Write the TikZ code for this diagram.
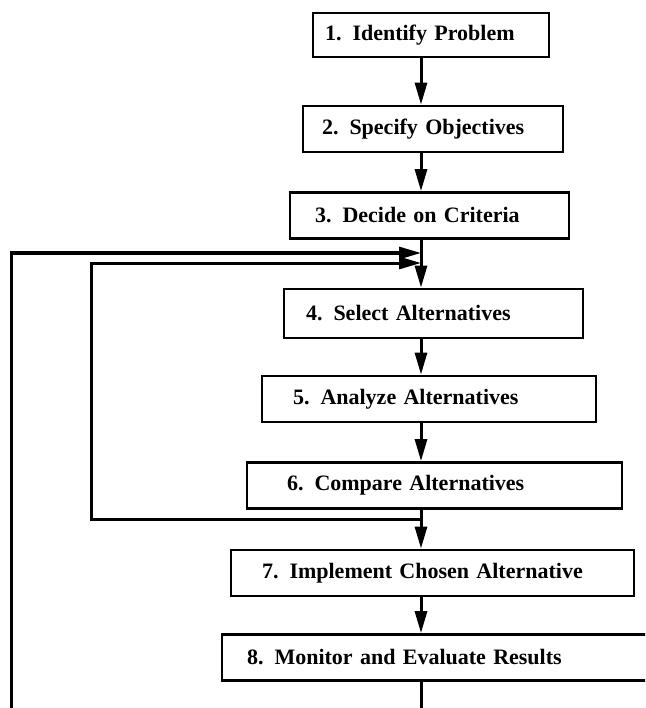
\documentclass[tikz,border=0pt]{standalone}
\usepackage{fontspec}
\setmainfont{Liberation Serif}
\usetikzlibrary{arrows.meta}
\tikzset{
    stage/.style={draw, line width=2.8pt, align=left, minimum height=46pt, inner ysep=0pt,
        font=\bfseries\fontsize{22}{26}\selectfont},
    flow/.style={line width=3pt, -{Triangle[length=22pt, width=12pt]}},
}

\begin{document}
\begin{tikzpicture}[x=1pt, y=-1pt]
    \clip (0,0) rectangle (645,708);
    \coordinate (spine) at (421,0);
    \coordinate (join1) at (421,253);
    \coordinate (join2) at (421,263);
    \coordinate (split) at (421,519);

    % Steps of the process
    \node[stage, minimum height=44pt, text width=212pt, inner xsep=12pt] (b1) at (431,35) {1.\enspace Identify Problem};
    \node[stage, text width=222pt, inner xsep=19pt] (b2) at (433,129) {2.\enspace Specify Objectives};
    \node[stage, text width=229pt, inner xsep=25pt] (b3) at (429.5,215.5) {3.\enspace Decide on Criteria};
    \node[stage, minimum height=49pt, text width=255pt, inner xsep=22pt] (b4) at (433.5,313.5) {4.\enspace Select Alternatives};
    \node[stage, text width=272pt, inner xsep=31pt] (b5) at (429,399) {5.\enspace Analyze Alternatives};
    \node[stage, text width=295pt, inner xsep=40pt] (b6) at (434.5,485.5) {6.\enspace Compare Alternatives};
    \node[stage, text width=341pt, inner xsep=31pt] (b7) at (432.5,573) {7.\enspace Implement Chosen Alternative};
    \node[stage, text width=388pt, inner xsep=25pt] (b8) at (441,657.5) {8.\enspace Monitor and Evaluate Results};

    % Forward arrows
    \draw[flow] (b1.south -| spine) -- (b2.north -| spine);
    \draw[flow] (b2.south -| spine) -- (b3.north -| spine);
    \draw[flow] (b3.south -| spine) -- (b4.north -| spine);
    \draw[flow] (b4.south -| spine) -- (b5.north -| spine);
    \draw[flow] (b5.south -| spine) -- (b6.north -| spine);
    \draw[flow] (b6.south -| spine) -- (b7.north -| spine);
    \draw[flow] (b7.south -| spine) -- (b8.north -| spine);

    % Feedback loops
    \draw[flow] (split) -| (91,263) -- (join2);
    \draw[flow] (b8.south -| spine) -- ++(0,60) -| (11,253) -- (join1);
\end{tikzpicture}
\end{document}
